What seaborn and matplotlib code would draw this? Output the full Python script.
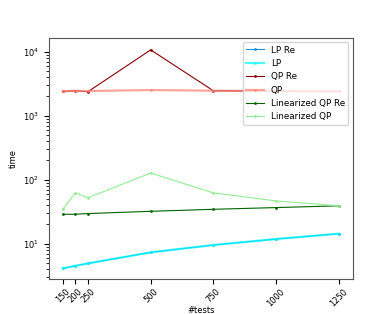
import numpy as np
import pandas as pd
import matplotlib
matplotlib.use("Agg")
import matplotlib.pyplot as plt
import seaborn as sns

tests = [150, 200, 250, 500, 750, 1000, 1250]
lp_re = [4.1, 4.5, 4.9, 7.3, 9.5, 11.8, 14.3]
lp = [4.1, 4.5, 4.9, 7.3, 9.5, 11.8, 14.3]
qp_re = [2400, 2450, 2370, 10700, 2450, 2420, 2400]
qp = [2420, 2450, 2430, 2520, 2460, 2430, 2400]
lin_qp_re = [28.7, 28.8, 29.5, 32, 34.4, 36.6, 39]
lin_qp = [34.8, 62, 52, 127, 62, 46.5, 39]

plt.rcParams['font.size'] = 6.0

fig, ax = plt.subplots(figsize=(3.92, 3.14), dpi=100)

series = [
    ("LP Re", lp_re, "#1f8fe0", 0.8, 1.0),
    ("LP", lp, "cyan", 1.6, 0.7),
    ("QP Re", qp_re, "darkred", 0.8, 1.0),
    ("QP", qp, "salmon", 1.6, 0.7),
    ("Linearized QP Re", lin_qp_re, "darkgreen", 0.8, 1.0),
    ("Linearized QP", lin_qp, "lightgreen", 0.8, 1.0),
]

for name, vals, color, lw, alpha in series:
    sns.lineplot(x=tests, y=vals, ax=ax, label=name, color=color,
                 linewidth=lw, alpha=alpha, marker='.', markersize=4,
                 markeredgewidth=0)

ax.set_yscale('log')
ax.set_xticks(tests)
ax.set_xticklabels([str(t) for t in tests], rotation=45)
ax.tick_params(axis='x', pad=2)
ax.set_xlabel('#tests')
ax.xaxis.set_label_coords(0.5, -0.108)
ax.set_ylabel('time')
ax.set_ylim(2.75, 16600)
ax.legend(loc='upper right', fontsize=6.3)
for s in ax.spines.values():
    s.set_color('#555555')

fig.savefig('out.png', dpi=100)
